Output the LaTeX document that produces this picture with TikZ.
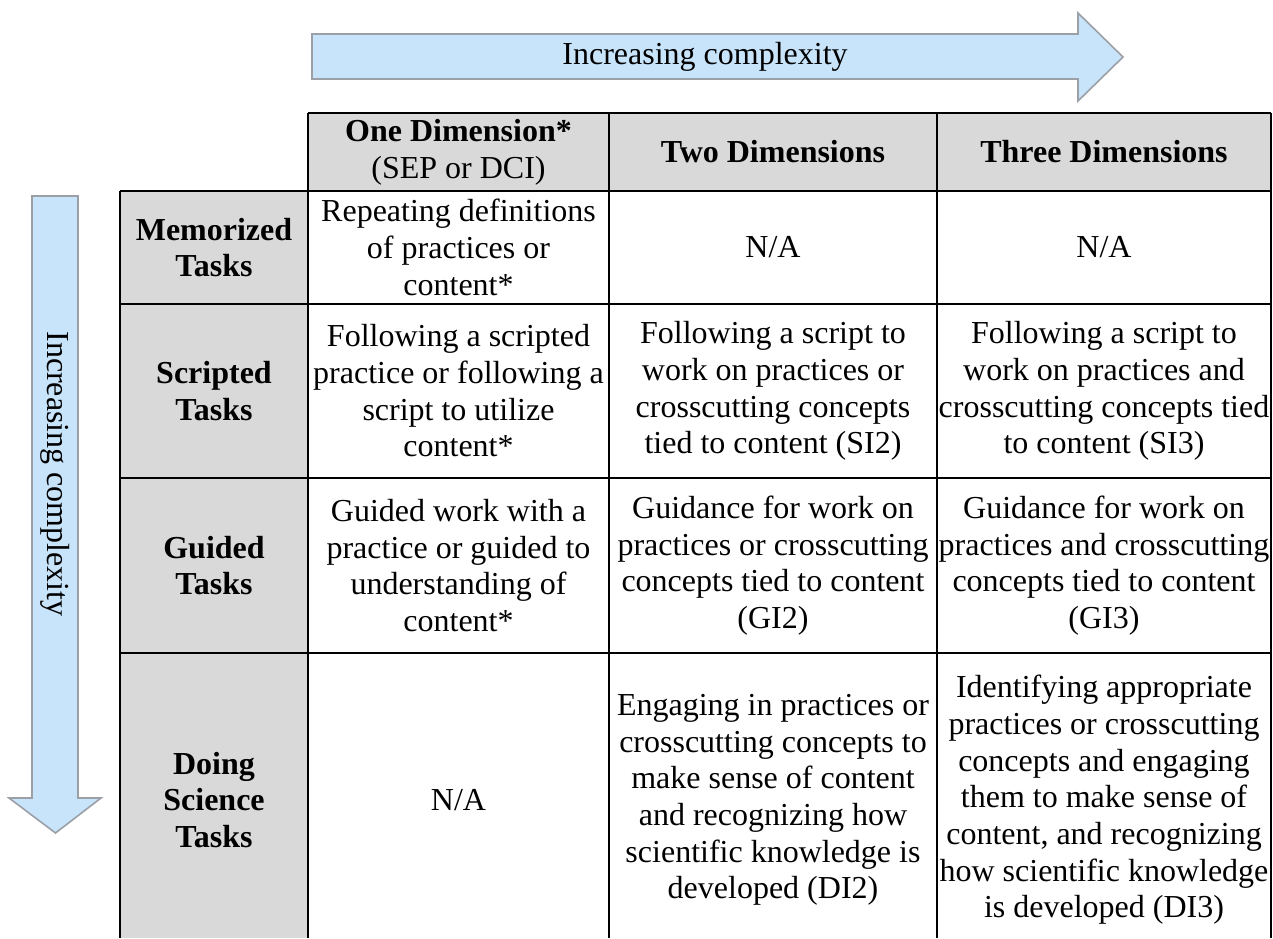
\documentclass[tikz,border=0pt]{standalone}
\usepackage{fontspec}
\setmainfont{Liberation Serif}
\definecolor{arrowblue}{RGB}{200,228,251}
\definecolor{arrowgray}{RGB}{155,160,166}
\definecolor{hdgray}{RGB}{217,217,217}
\begin{document}
\begin{tikzpicture}[x=0.75pt,y=-0.75pt,
  txt/.style={font=\fontsize{24}{27.5}\selectfont, align=center, inner sep=0pt},
  hd/.style={font=\fontsize{24}{27.5}\selectfont\bfseries, align=center, inner sep=0pt},
  gridline/.style={line width=1.5pt, draw=black},
  bigarrow/.style={fill=arrowblue, draw=arrowgray, line width=1.2pt, line join=miter}]
\useasboundingbox (0,0) rectangle (1273,938);
% arrows
\draw[bigarrow] (312,34) -- (1078,34) -- (1078,13) -- (1123,57) -- (1078,101) -- (1078,79) -- (312,79) -- cycle;
\node[txt] (harrowtext) at (705,57) {Increasing complexity};
\draw[bigarrow] (32,196) -- (78,196) -- (78,798) -- (101,798) -- (55.5,833) -- (9,798) -- (32,798) -- cycle;
\node[txt, rotate=-90] (varrowtext) at (55,474) {Increasing complexity};
% gray fills
\fill[hdgray] (308,113) rectangle (1271,191);
\fill[hdgray] (120,191) rectangle (308,938);
% grid
\draw[gridline] (308,113) -- (1271,113);
\foreach \yy in {191,304,478,653} \draw[gridline] (120,\yy) -- (1271,\yy);
\draw[gridline] (120,191) -- (120,938);
\foreach \xx in {308,609,937,1271} \draw[gridline] (\xx,113) -- (\xx,938);
% header
\node[txt] (h1) at (458.5,152) {\textbf{One Dimension*}\\(SEP or DCI)};
\node[hd] (h2) at (773,152) {Two Dimensions};
\node[hd] (h3) at (1104,152) {Three Dimensions};
% row headers
\node[hd] (r1) at (214,247.5) {Memorized\\Tasks};
\node[hd] (r2) at (214,391) {Scripted\\Tasks};
\node[hd] (r3) at (214,565.5) {Guided\\Tasks};
\node[hd] (r4) at (214,800) {Doing\\Science\\Tasks};
% row 1
\node[txt] (c11) at (458.5,247.5) {Repeating definitions\\of practices or\\content*};
\node[txt] (c12) at (773,247.5) {N/A};
\node[txt] (c13) at (1104,247.5) {N/A};
% row 2
\node[txt] (c21) at (458.5,391) {Following a scripted\\practice or following a\\script to utilize\\content*};
\node[txt] (c22) at (773,391) {Following a script to\\work on practices or\\crosscutting concepts\\tied to content (SI2)};
\node[txt] (c23) at (1104,391) {Following a script to\\work on practices and\\crosscutting concepts tied\\to content (SI3)};
% row 3
\node[txt] (c31) at (458.5,565.5) {Guided work with a\\practice or guided to\\understanding of\\content*};
\node[txt] (c32) at (773,565.5) {Guidance for work on\\practices or crosscutting\\concepts tied to content\\(GI2)};
\node[txt] (c33) at (1104,565.5) {Guidance for work on\\practices and crosscutting\\concepts tied to content\\(GI3)};
% row 4
\node[txt] (c41) at (458.5,800) {N/A};
\node[txt] (c42) at (773,800) {Engaging in practices or\\crosscutting concepts to\\make sense of content\\and recognizing how\\scientific knowledge is\\developed (DI2)};
\node[txt] (c43) at (1104,800) {Identifying appropriate\\practices or crosscutting\\concepts and engaging\\them to make sense of\\content, and recognizing\\how scientific knowledge\\is developed (DI3)};
\end{tikzpicture}
\end{document}
